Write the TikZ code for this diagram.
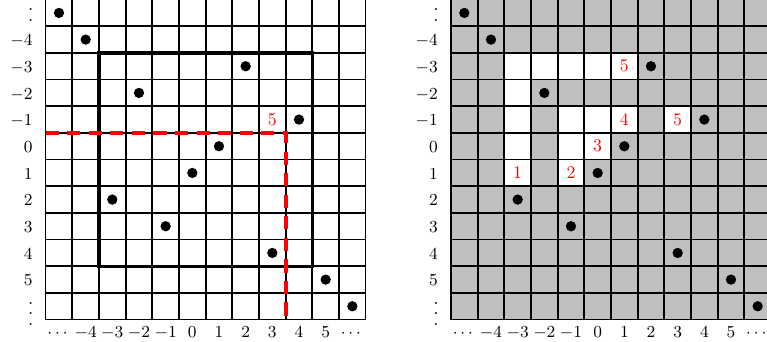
\documentclass[tikz,border=0pt]{standalone}
\usepackage{amsmath,amssymb}
\usepackage{tikz}

\newcommand{\rowdots}{\vbox{\baselineskip=5.7pt\lineskiplimit=0pt\hbox{.}\hbox{.}\hbox{.}}}

\begin{document}
\begin{tikzpicture}[x=0.5cm,y=0.5cm,
    gridline/.style={line width=0.9pt,step=1},
    perm/.style={circle,fill=black,inner sep=0pt,minimum size=5.5pt},
    rowlab/.style={anchor=base east,inner sep=0pt,font=\fontsize{8.6}{10}\selectfont},
    collab/.style={anchor=base,inner sep=0pt,font=\fontsize{8.6}{10}\selectfont},
    redlab/.style={text=red,inner sep=0pt,font=\fontsize{9.5}{11}\selectfont}]
    \useasboundingbox (-1.712,-0.836) rectangle (27.05,11.985);

    % left board
    \draw[gridline] (0,0) grid (12,12);
    \draw[line width=1.8pt] (2,2) rectangle (10,10);
    \draw[red,line width=2pt,dash pattern=on 7pt off 4.5pt] (0,7) -- (9,7) -- (9,0);
    \node[redlab] (kL) at (8.5,7.5) {5};
    \foreach \c [count=\r from 0] in {0,1,7,3,9,6,5,2,4,8,10,11}
        \node[perm] (pL\r) at (\c+0.5,11.5-\r) {};
    \foreach \lab [count=\r from 1] in {-4,-3,-2,-1,0,1,2,3,4,5}
        \node[rowlab] (rL\r) at (-0.48,11.26-\r) {$\lab$};
    \node[inner sep=0pt] (rLtop) at (-0.56,11.62) {\rowdots};
    \node[inner sep=0pt] (rLbot) at (-0.56,0.22) {\rowdots};
    \foreach \lab [count=\c from 0] in {\cdots,-4,-3,-2,-1,0,1,2,3,4,5,\cdots}
        \node[collab] (cL\c) at (\c+0.5,-0.66) {$\lab$};

    % right board
    \begin{scope}[shift={(15.2,0)}]
        \fill[lightgray] (0,0) rectangle (12,12);
        \foreach \c/\r in {2/2,3/2,4/2,5/2,6/2,2/3,2/4,4/4,5/4,6/4,8/4,2/5,4/5,5/5,2/6,4/6}
            \fill[white] (\c,11-\r) rectangle ++(1,1);
        \draw[gridline] (0,0) grid (12,12);
        \foreach \c/\r/\k in {2/6/1,4/6/2,5/5/3,6/4/4,8/4/5,6/2/5}
            \node[redlab] (kR\c\r) at (\c+0.5,11.5-\r) {\k};
        \foreach \c [count=\r from 0] in {0,1,7,3,9,6,5,2,4,8,10,11}
            \node[perm] (pR\r) at (\c+0.5,11.5-\r) {};
        \foreach \lab [count=\r from 1] in {-4,-3,-2,-1,0,1,2,3,4,5}
            \node[rowlab] (rR\r) at (-0.48,11.26-\r) {$\lab$};
        \node[inner sep=0pt] (rRtop) at (-0.56,11.62) {\rowdots};
        \node[inner sep=0pt] (rRbot) at (-0.56,0.22) {\rowdots};
        \foreach \lab [count=\c from 0] in {\cdots,-4,-3,-2,-1,0,1,2,3,4,5,\cdots}
            \node[collab] (cR\c) at (\c+0.5,-0.66) {$\lab$};
    \end{scope}
\end{tikzpicture}
\end{document}
